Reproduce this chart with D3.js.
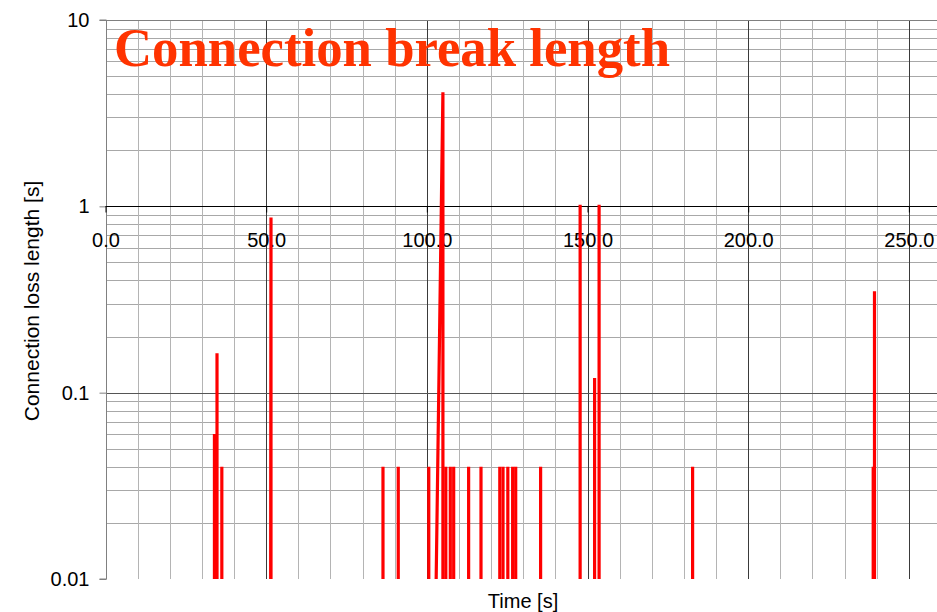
<!DOCTYPE html>
<html>
<head>
<meta charset="utf-8">
<script src="https://cdn.jsdelivr.net/npm/d3@7"></script>
<style>
  html, body { margin: 0; padding: 0; background: #fff; }
  svg { display: block; }
</style>
</head>
<body>
<div id="chart"></div>
<script>
// Connection breaks: time of each break [s], its length [s], and the time
// at which the trace leaves the floor before rising to that break.
const breakTimes   = [33.9, 34.7, 36.2, 51.5, 86.35, 91.1, 100.6, 105.0, 105.9, 107.3, 108.35, 113.0, 116.85, 122.7, 123.7, 125.2, 126.7, 127.65, 135.4, 147.7, 152.2, 153.6, 182.7, 238.9, 239.3];
const breakLengths = [0.06, 0.163, 0.04, 0.87, 0.04, 0.04, 0.04, 4.1, 0.04, 0.04, 0.04, 0.04, 0.04, 0.04, 0.04, 0.04, 0.04, 0.04, 0.04, 1.02, 0.12, 1.02, 0.04, 0.04, 0.35];
const breakOnsets  = [33.9, 34.7, 36.2, 51.4, 86.35, 91.1, 100.6, 102.9, 105.9, 107.3, 108.35, 113.0, 116.85, 122.7, 123.7, 125.2, 126.7, 127.65, 135.4, 147.7, 152.2, 153.6, 182.7, 238.9, 239.3];

const xTickValues = [0, 50, 100, 150, 200, 250];
const yTickValues = [0.01, 0.1, 1, 10];

const titleText = "Connection break length";
const xTitle = "Time [s]";
const yTitle = "Connection loss length [s]";

const W = 937, H = 612;
const plotLeft = 105.5, plotTop = 20, plotBottom = 579;

const x = d3.scaleLinear().domain([0, 260]).range([plotLeft, plotLeft + 260 * 3.2135]);
const y = d3.scaleLog().domain([0.01, 10]).range([plotBottom, plotTop]);

const svg = d3.select("#chart").append("svg")
  .attr("width", W).attr("height", H)
  .style("font-family", "'Liberation Sans', Arial, sans-serif");

const grid = svg.append("g").attr("shape-rendering", "crispEdges");

// Horizontal minor gridlines (2..9 in each decade)
const minorY = [];
[0.01, 0.1, 1].forEach(d => { for (let k = 2; k <= 9; k++) minorY.push(d * k); });
grid.selectAll("line.hy").data(minorY).join("line")
  .attr("x1", x(0)).attr("x2", W)
  .attr("y1", d => Math.round(y(d)) + 0.5).attr("y2", d => Math.round(y(d)) + 0.5)
  .attr("stroke", "#a8a8a8").attr("stroke-width", 1);

// Vertical gridlines every 10 s
const vx = d3.range(10, 261, 10);
grid.selectAll("line.vx").data(vx).join("line")
  .attr("x1", d => Math.round(x(d)) + 0.5).attr("x2", d => Math.round(x(d)) + 0.5)
  .attr("y1", plotTop).attr("y2", plotBottom)
  .attr("stroke", d => d % 50 === 0 ? "#3a3a3a" : "#b4b4b4").attr("stroke-width", 1);

// Decade gridlines
grid.append("line")
  .attr("x1", x(0)).attr("x2", W)
  .attr("y1", Math.round(y(10)) + 0.5).attr("y2", Math.round(y(10)) + 0.5)
  .attr("stroke", "#808080").attr("stroke-width", 1.5);
grid.append("line")
  .attr("x1", x(0)).attr("x2", W)
  .attr("y1", Math.round(y(0.1)) + 0.5).attr("y2", Math.round(y(0.1)) + 0.5)
  .attr("stroke", "#555").attr("stroke-width", 1);

// Y axis (log)
const yAxis = d3.axisLeft(y)
  .tickValues(yTickValues)
  .tickFormat(d => d3.format("~g")(d))
  .tickSize(7).tickPadding(10);
const gy = svg.append("g").attr("transform", `translate(${Math.round(x(0)) + 0.5},0)`).call(yAxis);
gy.select(".domain").attr("stroke", "#808080").attr("d", `M-7,${plotTop}H0V${plotBottom}H-7`);
gy.selectAll(".tick line").attr("stroke", "#808080");
gy.selectAll(".tick text")
  .attr("font-size", 20).attr("fill", "#000")
  .attr("font-family", "'Liberation Sans', Arial, sans-serif");

// X axis crossing at 1 s
const xAxis = d3.axisBottom(x)
  .tickValues(xTickValues)
  .tickFormat(d3.format(".1f"))
  .tickSize(6).tickPadding(20);
const gx = svg.append("g").attr("transform", `translate(0,${Math.round(y(1)) + 0.5})`).call(xAxis);
gx.select(".domain").attr("stroke", "#000").attr("d", `M${x(0)},0H${W}`);
gx.selectAll(".tick line").attr("stroke", "#000");
gx.selectAll(".tick text")
  .attr("font-size", 20).attr("fill", "#000")
  .attr("font-family", "'Liberation Sans', Arial, sans-serif");

// Break spikes
svg.append("clipPath").attr("id", "plotclip")
  .append("rect").attr("x", x(0)).attr("y", 0).attr("width", W).attr("height", plotBottom);
const line = d3.line().x(d => x(d[0])).y(d => y(d[1]));
const spikes = breakTimes.map((t, i) => [
  [breakOnsets[i], 0.01],
  [t, breakLengths[i]],
  [t, 0.01]
]);
svg.append("g").attr("clip-path", "url(#plotclip)")
  .selectAll("path").data(spikes).join("path")
  .attr("d", line)
  .attr("fill", "none")
  .attr("stroke", "#ff0000")
  .attr("stroke-width", 3.2)
  .attr("stroke-linejoin", "miter");

// Axis titles
svg.append("text")
  .attr("x", 523).attr("y", 608)
  .attr("text-anchor", "middle").attr("font-size", 20)
  .text(xTitle);
svg.append("text")
  .attr("transform", "translate(38.5,301) rotate(-90)")
  .attr("text-anchor", "middle").attr("font-size", 21)
  .text(yTitle);

// Chart title
svg.append("text")
  .attr("x", 114).attr("y", 66)
  .attr("font-family", "'Liberation Serif', 'Times New Roman', serif")
  .attr("font-weight", "bold").attr("font-size", 55)
  .attr("fill", "#ff3300")
  .attr("textLength", 556).attr("lengthAdjust", "spacingAndGlyphs")
  .text(titleText);
</script>
</body>
</html>
